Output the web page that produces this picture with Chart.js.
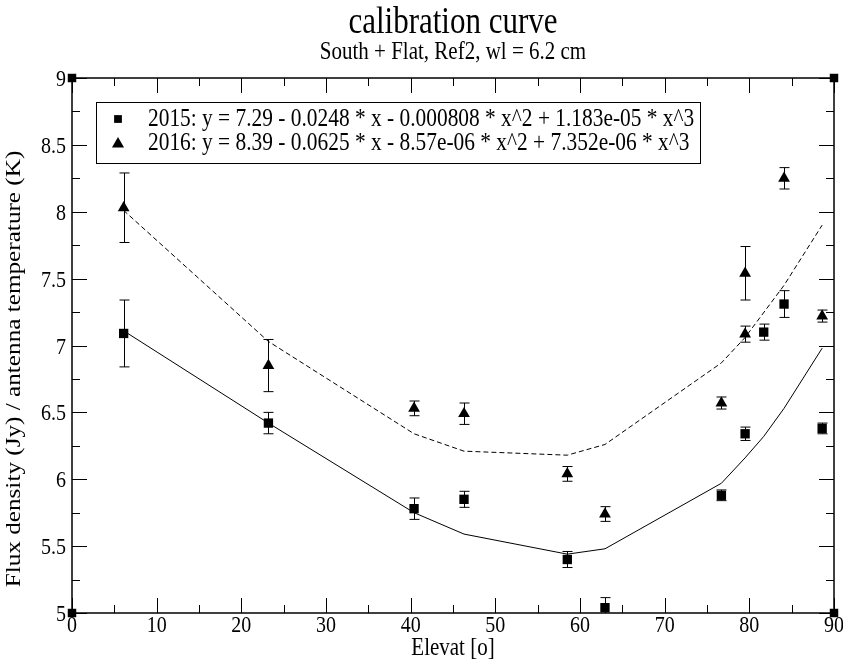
<!DOCTYPE html>
<html lang="en">
<head>
  <meta charset="UTF-8" />
  <title>calibration curve</title>
  <script src="https://cdn.jsdelivr.net/npm/chart.js"></script>
  <style>
    html, body { margin: 0; padding: 0; background: #fff; }
    #wrap { width: 843px; height: 662px; }
  </style>
</head>
<body>
  <div id="wrap"><canvas id="chart" width="843" height="662"></canvas></div>

  <script>
    const titleText = 'calibration curve';
    const subtitleText = 'South + Flat, Ref2, wl = 6.2 cm';
    const xTitle = 'Elevat [o]';
    const yTitle = 'Flux density (Jy) / antenna temperature (K)';
    const label2015 = '2015: y = 7.29 - 0.0248 * x - 0.000808 * x^2 + 1.183e-05 * x^3';
    const label2016 = '2016: y = 8.39 - 0.0625 * x - 8.57e-06 * x^2 + 7.352e-06 * x^3';

    // measured points, 2015
    const elev2015 = [6.1, 23.2, 40.4, 46.3, 58.5, 62.95, 76.7, 79.5, 81.7, 84.1, 88.6];
    const flux2015 = [7.09, 6.42, 5.78, 5.85, 5.40, 5.04, 5.88, 6.34, 7.10, 7.31, 6.38];
    const err2015  = [0.25, 0.08, 0.08, 0.06, 0.06, 0.075, 0.04, 0.05, 0.06, 0.10, 0.04];

    // measured points, 2016
    const elev2016 = [6.1, 23.2, 40.4, 46.3, 58.5, 62.95, 76.7, 79.5, 79.5, 84.1, 88.6];
    const flux2016 = [8.03, 6.85, 6.53, 6.49, 6.04, 5.74, 6.57, 7.085, 7.54, 8.25, 7.22];
    const err2016  = [0.26, 0.195, 0.055, 0.08, 0.055, 0.055, 0.045, 0.06, 0.20, 0.08, 0.045];

    const fitElev2015 = [6.1, 23.2, 40.4, 46.3, 58.5, 62.95, 76.7, 79.5, 81.7, 84.1, 88.6];
    const fitFlux2015 = [7.11, 6.42, 5.75, 5.59, 5.44, 5.48, 5.97, 6.16, 6.32, 6.53, 6.98];
    const fitElev2016 = [6.1, 23.2, 40.4, 46.3, 58.5, 62.95, 76.7, 79.5, 84.1, 88.6];
    const fitFlux2016 = [8.01, 7.03, 6.34, 6.21, 6.18, 6.26, 6.87, 7.06, 7.45, 7.90];

    // corner marks of the frame
    const cornerX = [0, 0, 90, 90];
    const cornerY = [5, 9, 9, 5];

    const xTicks = [0, 10, 20, 30, 40, 50, 60, 70, 80, 90];
    const xTickLabels = ['0', '10', '20', '30', '40', '50', '60', '70', '80', '90'];
    const yTicks = [5, 5.5, 6, 6.5, 7, 7.5, 8, 8.5, 9];
    const yTickLabels = ['5', '5.5', '6', '6.5', '7', '7.5', '8', '8.5', '9'];

    const serif = "'Liberation Serif', 'DejaVu Serif', serif";
    // the original picture is a bit taller than wide, so text is stretched up
    const stretch = 1.2;

    function pts(xs, ys) {
      return xs.map((x, i) => ({ x: x, y: ys[i] }));
    }

    function text(ctx, str, x, y, size, align, rotate) {
      ctx.save();
      ctx.translate(x, y);
      ctx.font = size + 'px ' + serif;
      ctx.textAlign = align;
      ctx.textBaseline = 'alphabetic';
      ctx.fillStyle = '#000';
      if (rotate) {
        ctx.rotate(-Math.PI / 2);
        ctx.scale(stretch, 1);
      } else {
        ctx.scale(1, stretch);
      }
      ctx.fillText(str, 0, 0);
      ctx.restore();
    }

    // frame, inward ticks on all four sides, labels and titles
    const framePlugin = {
      id: 'frame',
      afterDraw(chart) {
        const { ctx, chartArea: a, scales: { x, y } } = chart;
        ctx.save();
        ctx.strokeStyle = '#000';
        ctx.lineWidth = 1.5;
        ctx.strokeRect(a.left, a.top, a.right - a.left, a.bottom - a.top);
        ctx.lineWidth = 1;
        ctx.beginPath();
        const xs = x.ticks.map(t => t.value);
        xs.forEach((v, i) => {
          const px = Math.round(x.getPixelForValue(v)) + 0.5;
          ctx.moveTo(px, a.bottom); ctx.lineTo(px, a.bottom - 15);
          ctx.moveTo(px, a.top); ctx.lineTo(px, a.top + 15);
          if (i < xs.length - 1) {
            const pm = Math.round(x.getPixelForValue((v + xs[i + 1]) / 2)) + 0.5;
            ctx.moveTo(pm, a.bottom); ctx.lineTo(pm, a.bottom - 8);
            ctx.moveTo(pm, a.top); ctx.lineTo(pm, a.top + 8);
          }
        });
        const ys = y.ticks.map(t => t.value);
        ys.forEach((v, i) => {
          const py = Math.round(y.getPixelForValue(v)) + 0.5;
          ctx.moveTo(a.left, py); ctx.lineTo(a.left + 15, py);
          ctx.moveTo(a.right, py); ctx.lineTo(a.right - 15, py);
          if (i < ys.length - 1) {
            const pm = Math.round(y.getPixelForValue((v + ys[i + 1]) / 2)) + 0.5;
            ctx.moveTo(a.left, pm); ctx.lineTo(a.left + 8, pm);
            ctx.moveTo(a.right, pm); ctx.lineTo(a.right - 8, pm);
          }
        });
        ctx.stroke();
        ctx.restore();

        xs.forEach((v, i) => text(ctx, xTickLabels[i], x.getPixelForValue(v), a.bottom + 19, 20, 'center'));
        ys.forEach((v, i) => text(ctx, yTickLabels[i], a.left - 6, y.getPixelForValue(v) + 8, 20, 'right'));

        const cx = (a.left + a.right) / 2;
        text(ctx, titleText, cx, 33, 31, 'center');
        text(ctx, subtitleText, cx, 59, 21, 'center');
        text(ctx, xTitle, cx, 655, 21, 'center');
        text(ctx, yTitle, 20, 369, 21, 'center', true);
      }
    };

    // vertical error bars with caps
    const errorBarPlugin = {
      id: 'errorBars',
      afterDatasetsDraw(chart) {
        const { ctx, scales: { y } } = chart;
        ctx.save();
        ctx.strokeStyle = '#000';
        ctx.lineWidth = 1;
        chart.data.datasets.forEach((ds, i) => {
          if (!ds.errors) return;
          const meta = chart.getDatasetMeta(i);
          meta.data.forEach((pt, j) => {
            const e = ds.errors[j];
            const v = ds.data[j].y;
            const px = Math.round(pt.x) + 0.5;
            const top = y.getPixelForValue(v + e);
            const bot = y.getPixelForValue(Math.max(v - e, y.min));
            ctx.beginPath();
            ctx.moveTo(px, top); ctx.lineTo(px, bot);
            ctx.moveTo(px - 5, top); ctx.lineTo(px + 5, top);
            if (v - e >= y.min) { ctx.moveTo(px - 5, bot); ctx.lineTo(px + 5, bot); }
            ctx.stroke();
          });
        });
        ctx.restore();
      }
    };

    // legend box inside the plot
    const legendBoxPlugin = {
      id: 'legendBox',
      afterDraw(chart) {
        const { ctx } = chart;
        const items = chart.data.datasets.filter(d => d.inLegend);
        ctx.save();
        ctx.strokeStyle = '#000';
        ctx.lineWidth = 1;
        ctx.fillStyle = '#fff';
        ctx.fillRect(96, 102, 604, 61);
        ctx.strokeRect(96.5, 102.5, 604, 61);
        items.forEach((d, i) => {
          const yy = 119 + i * 24;
          ctx.fillStyle = '#000';
          Chart.helpers.drawPoint(ctx, { pointStyle: d.pointStyle, radius: d.pointStyle === 'rect' ? 5.5 : 7, rotation: 0, borderWidth: 0 }, 118, yy + (d.pointStyle === 'rect' ? 0 : 1));
          text(ctx, d.label, 148, yy + 7, 21.4, 'left');
        });
        ctx.restore();
      }
    };

    const ctx = document.getElementById('chart').getContext('2d');
    new Chart(ctx, {
      type: 'scatter',
      data: {
        datasets: [
          {
            label: 'fit 2015',
            data: pts(fitElev2015, fitFlux2015),
            showLine: true,
            borderColor: '#000',
            borderWidth: 1,
            pointRadius: 0,
            fill: false
          },
          {
            label: 'fit 2016',
            data: pts(fitElev2016, fitFlux2016),
            showLine: true,
            borderColor: '#000',
            borderWidth: 1,
            borderDash: [5, 3],
            pointRadius: 0,
            fill: false
          },
          {
            label: label2015,
            inLegend: true,
            data: pts(elev2015, flux2015),
            errors: err2015,
            pointStyle: 'rect',
            pointRadius: 6.6,
            backgroundColor: '#000',
            borderColor: '#000',
            borderWidth: 0,
            clip: false
          },
          {
            label: label2016,
            inLegend: true,
            data: pts(elev2016, flux2016),
            errors: err2016,
            pointStyle: 'triangle',
            pointRadius: 6.8,
            backgroundColor: '#000',
            borderColor: '#000',
            borderWidth: 0
          },
          {
            label: 'corners',
            data: pts(cornerX, cornerY),
            pointStyle: 'rect',
            pointRadius: 6,
            backgroundColor: '#000',
            borderWidth: 0,
            clip: false
          }
        ]
      },
      options: {
        responsive: false,
        animation: false,
        layout: { padding: { top: 78, right: 9, left: 0, bottom: 0 } },
        plugins: {
          legend: { display: false },
          tooltip: { enabled: false },
          title: { display: false }
        },
        scales: {
          x: {
            type: 'linear',
            min: 0,
            max: 90,
            afterBuildTicks(scale) { scale.ticks = xTicks.map(v => ({ value: v })); },
            afterFit(scale) { scale.height = 49; },
            grid: { display: false, drawTicks: false },
            border: { display: false },
            ticks: { display: false }
          },
          y: {
            type: 'linear',
            min: 5,
            max: 9,
            afterBuildTicks(scale) { scale.ticks = yTicks.map(v => ({ value: v })); },
            afterFit(scale) { scale.width = 72; },
            grid: { display: false, drawTicks: false },
            border: { display: false },
            ticks: { display: false }
          }
        }
      },
      plugins: [framePlugin, errorBarPlugin, legendBoxPlugin]
    });
  </script>
</body>
</html>
